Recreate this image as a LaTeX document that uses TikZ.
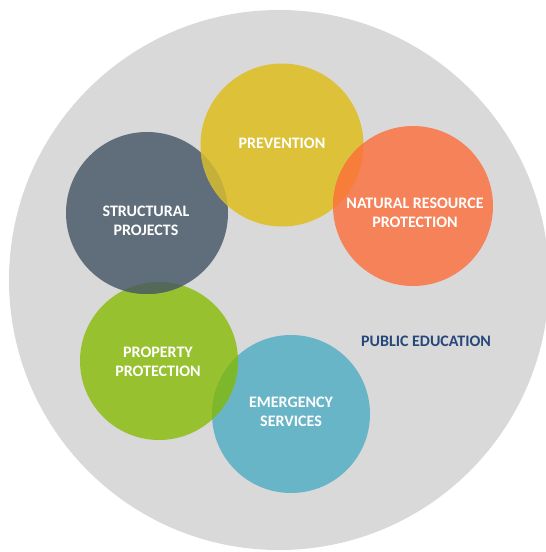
\documentclass[tikz,border=0pt]{standalone}
\usepackage{fontspec}
\setmainfont{Carlito}
\definecolor{bggray}{HTML}{D9D9D9}
\definecolor{cyellow}{HTML}{DDC138}
\definecolor{cdark}{HTML}{5F6E7A}
\definecolor{corange}{HTML}{F6825A}
\definecolor{cgreen}{HTML}{97C12F}
\definecolor{cblue}{HTML}{68B5C8}
\definecolor{ovyd}{HTML}{C6B03C}
\definecolor{ovoy}{HTML}{F77E38}
\definecolor{ovdg}{HTML}{55695A}
\definecolor{ovgb}{HTML}{7DB82C}
\definecolor{pubblue}{HTML}{26477A}
\begin{document}
\begin{tikzpicture}[x=1pt,y=-1pt,
  lbl/.style={text=white,font=\bfseries\fontsize{16}{19}\selectfont,align=center,inner sep=0pt},
  publbl/.style={text=pubblue,font=\bfseries\fontsize{16}{19}\selectfont,inner sep=0pt}]
\useasboundingbox (0,0) rectangle (546,552);
\begin{scope}
\clip (0,0) rectangle (546,552);
\fill[bggray] (279,280) circle (270);
\end{scope}
% circles
\fill[cblue] (291,414) circle (79);
\fill[cgreen] (159,361) circle (79);
\fill[cdark] (147,213) circle (81);
\fill[cyellow] (282,145) circle (81.5);
\fill[corange] (413,206) circle (80);
% overlaps
\begin{scope}\clip (282,145) circle (81.5); \fill[ovyd] (147,213) circle (81);\end{scope}
\begin{scope}\clip (413,206) circle (80); \fill[ovoy] (282,145) circle (81.5);\end{scope}
\begin{scope}\clip (147,213) circle (81); \fill[ovdg] (159,361) circle (79);\end{scope}
\begin{scope}\clip (291,414) circle (79); \fill[ovgb] (159,361) circle (79);\end{scope}
% labels
\node[lbl] (prev) at (282,143.5) {PREVENTION};
\node[lbl] (struct) at (146,221) {STRUCTURAL\\PROJECTS};
\node[lbl] (nat) at (415,212.5) {NATURAL RESOURCE\\PROTECTION};
\node[lbl] (prop) at (158,362) {PROPERTY\\PROTECTION};
\node[lbl] (emer) at (291,411.5) {EMERGENCY\\SERVICES};
\node[publbl] (pub) at (426,341.5) {PUBLIC EDUCATION};
\end{tikzpicture}
\end{document}
